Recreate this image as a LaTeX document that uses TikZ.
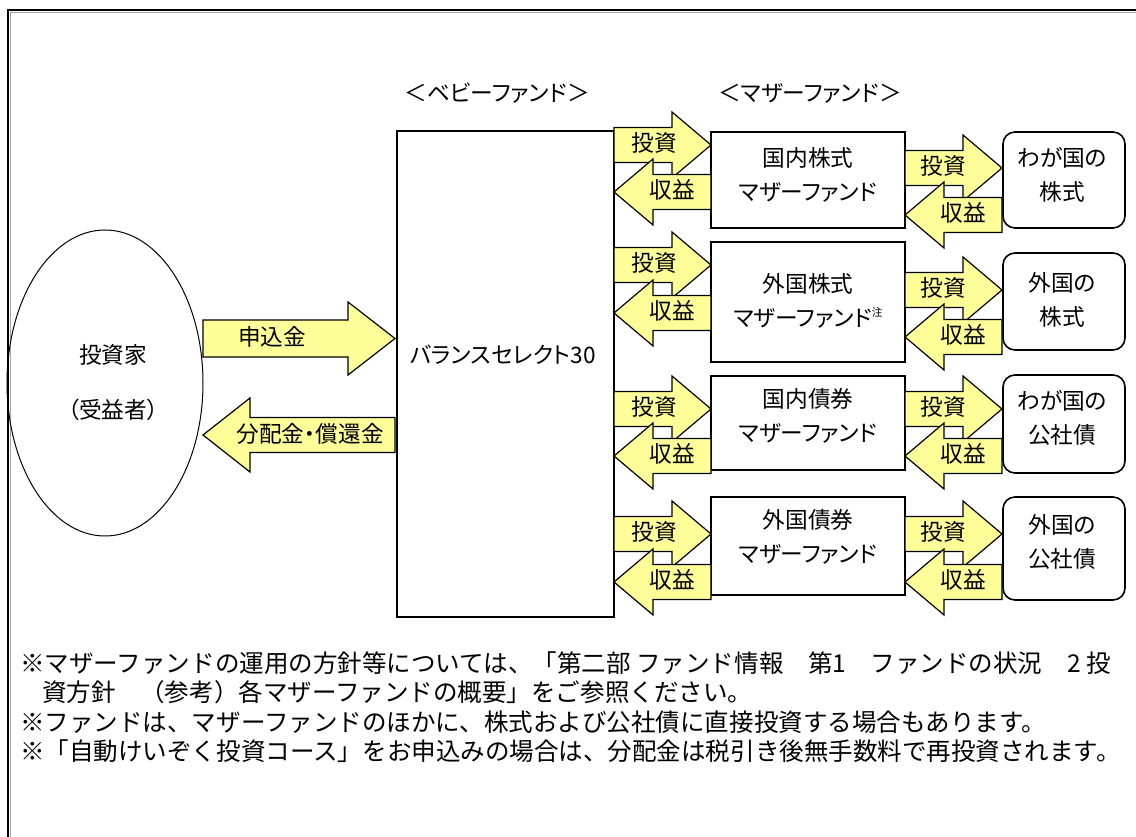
\documentclass[tikz,border=0pt]{standalone}
\usepackage{fontspec}
\setmainfont[RawFeature=+palt]{Noto Sans CJK JP}
\newfontfamily\notefont{Noto Sans CJK JP}
\usetikzlibrary{shapes.geometric}
\definecolor{ay}{HTML}{FFFF99}
\tikzset{
  boxstyle/.style={draw, line width=1.5pt, fill=white, inner sep=0pt},
  assetstyle/.style={draw, line width=1.2pt, fill=white, rounded corners=9pt, inner sep=0pt},
  arr/.style={draw, line width=0.9pt, fill=ay, line join=miter},
  lbl/.style={font=\fontsize{17}{25}\selectfont, inner sep=0pt, align=center},
  notestyle/.style={font=\notefont\fontsize{18.4}{22}\selectfont, anchor=west, inner sep=0pt},
}
\newcommand\RBlock[6]{%
  \path[arr] (#1,{#4-#5}) -- (#2,{#4-#5}) -- (#2,{#4-#6}) -- (#3,#4) -- (#2,{#4+#6}) -- (#2,{#4+#5}) -- (#1,{#4+#5}) -- cycle;}
\newcommand\LBlock[6]{%
  \path[arr] (#3,{#4-#5}) -- (#2,{#4-#5}) -- (#2,{#4-#6}) -- (#1,#4) -- (#2,{#4+#6}) -- (#2,{#4+#5}) -- (#3,{#4+#5}) -- cycle;}
\begin{document}
\begin{tikzpicture}[x=0.75pt,y=-0.75pt]
\useasboundingbox (0,0) rectangle (1136,837);
\fill[white] (0,0) rectangle (1136,837);
% outer frame
\draw[gray!70, line width=0.75pt] (10.5,837) -- (10.5,12.5) -- (1136,12.5);
\draw[line width=1.5pt] (8,837) -- (8,10) -- (1136,10);

% headings
\node[lbl, font=\fontsize{17}{20}\selectfont] (hbaby) at (497,93) {＜ベビーファンド＞};
\node[lbl, font=\fontsize{17}{20}\selectfont] (hmother) at (810,93) {＜マザーファンド＞};

% investor
\node[draw, ellipse, line width=0.75pt, minimum width=147pt, minimum height=229.5pt] (investor) at (105,383) {};
\node[lbl] (invtxt1) at (113,355) {投資家};
\node[lbl] (invtxt2) at (113,410) {（受益者）};

% baby fund
\node[boxstyle, minimum width=162.75pt, minimum height=364.5pt] (baby) at (505.5,374) {};
\node[lbl] (babytxt) at (503,355) {バランスセレクト30};

% mother funds
\node[boxstyle, minimum width=145.5pt, minimum height=72pt] (m1) at (808,180) {};
\node[boxstyle, minimum width=145.5pt, minimum height=90pt] (m2) at (808,302) {};
\node[boxstyle, minimum width=145.5pt, minimum height=70.5pt] (m3) at (808,423) {};
\node[boxstyle, minimum width=145.5pt, minimum height=73.5pt] (m4) at (808,546) {};
\node[lbl] (m1t) at (808,175) {国内株式\\マザーファンド};
\node[lbl] (m2t) at (808,301) {外国株式\\マザーファンド\raisebox{0.45em}{\fontsize{8}{8}\selectfont 注}};
\node[lbl] (m3t) at (808,416) {国内債券\\マザーファンド};
\node[lbl] (m4t) at (808,537) {外国債券\\マザーファンド};

% assets
\node[assetstyle, minimum width=91.5pt, minimum height=72pt] (a1) at (1064,180) {};
\node[assetstyle, minimum width=91.5pt, minimum height=72.75pt] (a2) at (1064,301.5) {};
\node[assetstyle, minimum width=91.5pt, minimum height=73.5pt] (a3) at (1064,424) {};
\node[assetstyle, minimum width=91.5pt, minimum height=77.25pt] (a4) at (1064,548.5) {};
\node[lbl] (a1t) at (1062,175) {わが国の\\株式};
\node[lbl] (a2t) at (1062,300) {外国の\\株式};
\node[lbl] (a3t) at (1062,418) {わが国の\\公社債};
\node[lbl] (a4t) at (1062,542) {外国の\\公社債};

% big arrows
\RBlock{203}{348}{395}{338.5}{18.5}{36.5}
\node[lbl] (sub) at (272,337) {申込金};
\LBlock{203}{250}{395}{435}{17.5}{37}
\node[lbl] (dist) at (310,434) {分配金・償還金};

% baby -> mother
\foreach \a/\b [count=\i] in {145/192, 265/313, 409/456, 534/582} {
  \RBlock{614}{672}{711}{\a}{17.5}{33}
  \node[lbl] (linv\i) at (654,{\a-2}) {投資};
  \LBlock{614}{653}{711}{\b}{17.5}{33}
  \node[lbl] (lret\i) at (672,{\b-2}) {収益};
}
% mother -> assets
\foreach \a/\b [count=\i] in {168/215, 290/337, 409/456, 534/582} {
  \RBlock{905}{963}{1002}{\a}{17.5}{33}
  \node[lbl] (rinv\i) at (943,{\a-2}) {投資};
  \LBlock{905}{944}{1002}{\b}{17.5}{33}
  \node[lbl] (rret\i) at (963,{\b-2}) {収益};
}

% notes
\node[notestyle] (n1) at (20,663) {※マザーファンドの運用の方針等については、「第二部 ファンド情報　第1　ファンドの状況　2 投};
\node[notestyle] (n2) at (42,692) {資方針　（参考）各マザーファンドの概要」をご参照ください。};
\node[notestyle] (n3) at (20,722) {※ファンドは、マザーファンドのほかに、株式および公社債に直接投資する場合もあります。};
\node[notestyle] (n4) at (20,751) {※「自動けいぞく投資コース」をお申込みの場合は、分配金は税引き後無手数料で再投資されます。};
\end{tikzpicture}
\end{document}
